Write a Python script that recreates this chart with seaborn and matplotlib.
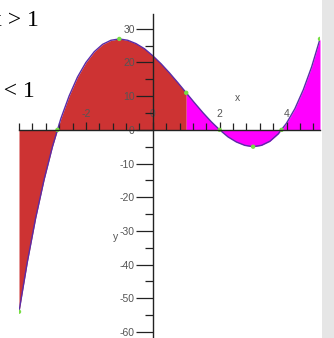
import numpy as np
import pandas as pd
import matplotlib
matplotlib.use("Agg")
import matplotlib.pyplot as plt
from matplotlib.ticker import MultipleLocator, FixedLocator
from matplotlib.patches import Rectangle
import seaborn as sns

# Curve values
xs = [-4.0, -3.75, -3.5, -3.25, -3.0, -2.75, -2.5, -2.25, -2.0, -1.75, -1.5, -1.25,
      -1.0, -0.75, -0.5, -0.25, 0.0, 0.25, 0.5, 0.75, 1.0, 1.25, 1.5, 1.75, 2.0,
      2.25, 2.5, 2.75, 3.0, 3.25, 3.5, 3.75, 4.0, 4.25, 4.5, 4.75, 5.0]
ys = [-54.0, -39.2, -26.1, -14.8, -5.0, 3.3, 10.1, 15.7, 20.0, 23.2, 25.4, 26.6,
      27.0, 26.6, 25.6, 24.1, 22.0, 19.6, 16.9, 14.0, 11.0, 8.0, 5.1, 2.4, 0.0,
      -2.1, -3.6, -4.6, -5.0, -4.6, -3.4, -1.2, 2.0, 6.3, 11.9, 18.7, 27.0]

# Marked points (green dots)
px = [-4.0, -2.85, -1.0, 1.0, 2.0, 3.0, 3.85, 5.0]
py = [-54.0, 0.0, 27.0, 11.0, 0.0, -5.0, 0.0, 27.0]

split_x = 1.0
left_label = "x > 1"
right_label = "x < 1"
x_tick_labels = [-2, 0, 2, 4]
y_tick_labels = [-60, -50, -40, -30, -20, -10, 0, 10, 20, 30]

df = pd.DataFrame({"x": xs, "y": ys})
pts = pd.DataFrame({"x": px, "y": py})

plt.rcParams["axes.unicode_minus"] = False

fig = plt.figure(figsize=(3.34, 3.38), dpi=100)
fig.patch.set_facecolor("white")
fig.add_artist(Rectangle((322 / 334, 0), 12 / 334, 1, transform=fig.transFigure,
                         facecolor="#e6e6e6", edgecolor="none", zorder=0))

ax = fig.add_axes([19 / 334, 0, 301 / 334, 324 / 338])
ax.set_facecolor("none")

xa = np.array(xs)
ya = np.array(ys)
left = xa <= split_x
right = xa >= split_x
ax.fill_between(xa[left], 0, ya[left], color="#CD3333", linewidth=0, zorder=1)
ax.fill_between(xa[right], 0, ya[right], color="#FF00FF", linewidth=0, zorder=1)

sns.lineplot(data=df, x="x", y="y", ax=ax, color="#5a2ca8", linewidth=1.0,
             sort=False, zorder=3)
sns.scatterplot(data=pts, x="x", y="y", ax=ax, color="#77dd44", s=10,
                edgecolor="none", zorder=4)

ax.set_xlim(-4, 5)
ax.set_ylim(-61.8, 34.4)

# Spines through origin
ax.spines["right"].set_visible(False)
ax.spines["bottom"].set_visible(False)
ax.spines["top"].set_position(("data", 0))
ax.spines["left"].set_position(("data", 0))
for s in ("top", "left"):
    ax.spines[s].set_color("#222222")
    ax.spines[s].set_linewidth(1.0)
    ax.spines[s].set_zorder(5)

ax.xaxis.set_ticks_position("top")
ax.xaxis.set_label_position("top")
ax.xaxis.set_major_locator(FixedLocator(x_tick_labels))
ax.xaxis.set_minor_locator(MultipleLocator(0.4))
ax.set_xticklabels([str(v) for v in x_tick_labels])
ax.tick_params(axis="x", which="major", direction="out", length=6, width=0.9,
               color="#222222", labelsize=7.5, labelcolor="#555555", pad=2)
ax.tick_params(axis="x", which="minor", direction="out", length=5, width=0.9,
               color="#222222")

ax.yaxis.set_major_locator(FixedLocator(y_tick_labels))
ax.yaxis.set_minor_locator(MultipleLocator(5))
ax.set_yticklabels([str(v) for v in y_tick_labels])
ax.tick_params(axis="y", which="major", direction="out", length=12, width=0.9,
               color="#222222", labelsize=7.5, labelcolor="#555555", pad=1)
ax.tick_params(axis="y", which="minor", direction="out", length=6, width=0.9,
               color="#222222")

for lab in ax.get_xticklabels() + ax.get_yticklabels():
    lab.set_fontfamily("Liberation Sans")

ax.set_xlabel("")
ax.set_ylabel("")
ax.text(2.54, 9.5, "x", fontsize=7.5, color="#555555", ha="center", va="center",
        family="Liberation Sans")
ax.text(-1.1, -31.8, "y", fontsize=7.5, color="#555555", ha="center", va="center",
        family="Liberation Sans")

fig.text(39 / 334, 1 - 26 / 338, left_label, ha="right", va="baseline",
         fontsize=17, family="Liberation Serif", color="black")
fig.text(35 / 334, 1 - 97 / 338, right_label, ha="right", va="baseline",
         fontsize=17, family="Liberation Serif", color="black")

fig.savefig("out.png", dpi=100)
